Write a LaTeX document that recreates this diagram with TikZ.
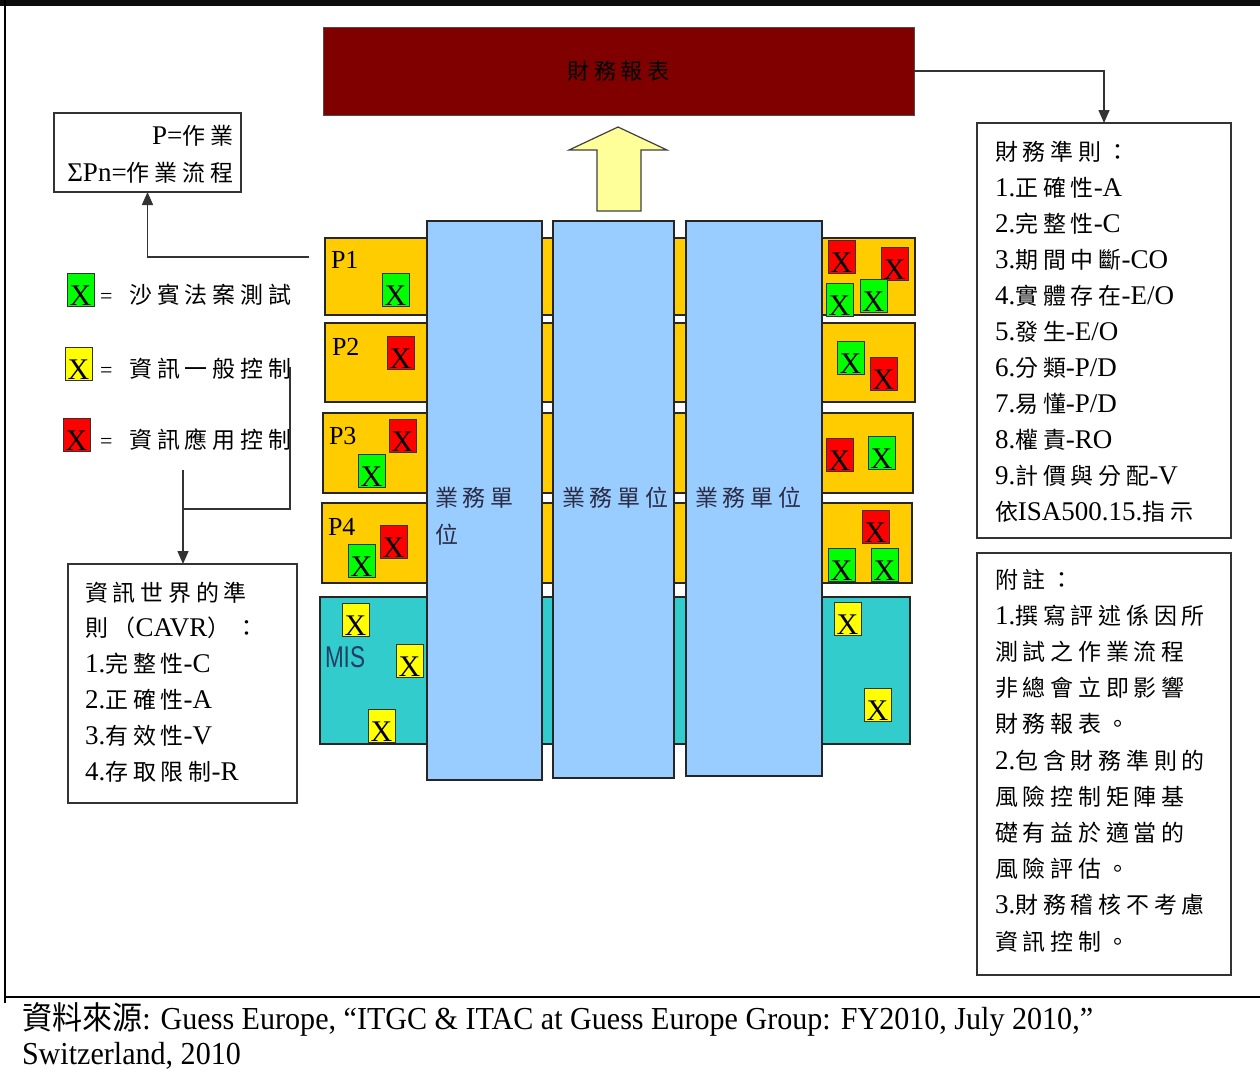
\documentclass[tikz,border=0pt]{standalone}
\usepackage{graphicx}
\usepackage{fontspec}
\setmainfont{Liberation Serif}
\newfontfamily\cjk{Noto Sans CJK TC}[Scale=0.85,LetterSpace=21]
\newfontfamily\cjkn{Noto Sans CJK TC}
\newfontfamily\sansn{Liberation Sans}
\usetikzlibrary{arrows.meta}
\newcommand\zh[1]{{\cjk #1}}
\definecolor{finred}{HTML}{800000}
\definecolor{procor}{HTML}{FFCC00}
\definecolor{misteal}{HTML}{33CCCC}
\definecolor{colblue}{HTML}{99CCFF}
\definecolor{xgreen}{HTML}{00FF00}
\definecolor{xred}{HTML}{FF0000}
\definecolor{xyellow}{HTML}{FFFF00}
\definecolor{arrowyel}{HTML}{FFFF99}
\definecolor{misblue}{HTML}{1F3F66}
\definecolor{coltext}{HTML}{2B2B44}
\tikzset{
  plain/.style={inner sep=0pt, outer sep=0pt},
  txt/.style={plain, anchor=base west, font=\fontsize{27}{36}\selectfont, text=black},
  rowbox/.style={plain, draw=black!85, line width=1.3pt, anchor=north west},
  colbox/.style={plain, draw=black!85, line width=1.3pt, fill=colblue, anchor=north west},
  infobox/.style={plain, draw=black!80, line width=1.5pt, anchor=north west, fill=white},
  xmark/.style={plain, draw=black!80, line width=1pt, anchor=north west, minimum width=27pt, text height=32pt, text depth=1pt, font=\fontsize{30}{30}\selectfont},
  conn/.style={draw=black!80, line width=1.5pt},
  tip/.style={-{Triangle[width=11pt,length=13pt]}},
}
\newcommand\xmk[4]{\node[xmark, fill=#2] (#1) at (#3,#4) {X};}
\begin{document}
\begin{tikzpicture}[x=1pt,y=-1pt]
\useasboundingbox (0,0) rectangle (1260,1071);
\fill[white] (0,0) rectangle (1260,1071);
% frame
\fill[black!95] (0,0) rectangle (1260,6);
\draw[line width=2pt] (5,0) -- (5,1003);
\draw[line width=2pt] (5,997) -- (1260,997);

% financial statements
\node[plain, draw=black!70, line width=1pt, fill=finred, anchor=north west, minimum width=591pt, minimum height=88pt, font=\fontsize{26}{26}\selectfont] (fin) at (323,27) {\zh{財務報表}};

% yellow block arrow
\draw[fill=arrowyel, draw=black!75, line width=1.2pt] (618,127) -- (667,150) -- (641,150) -- (641,211) -- (597,211) -- (597,150) -- (569,150) -- cycle;

% process rows
\node[rowbox, fill=procor, minimum width=590pt, minimum height=77pt] (P1) at (325,238) {};
\node[rowbox, fill=procor, minimum width=590pt, minimum height=79pt] (P2) at (325,323) {};
\node[rowbox, fill=procor, minimum width=590pt, minimum height=80pt] (P3) at (323,413) {};
\node[rowbox, fill=procor, minimum width=590pt, minimum height=80pt] (P4) at (322,503) {};
\node[rowbox, fill=misteal, minimum width=590pt, minimum height=147pt] (MIS) at (320,597) {};

\node[txt, font=\fontsize{26}{26}\selectfont] (P1t) at (331,268) {P1};
\node[txt, font=\fontsize{26}{26}\selectfont] (P2t) at (332,355) {P2};
\node[txt, font=\fontsize{26}{26}\selectfont] (P3t) at (329,444) {P3};
\node[txt, font=\fontsize{26}{26}\selectfont] (P4t) at (328,535) {P4};
\node[plain, anchor=base west, text=misblue, font=\fontsize{30}{30}\selectfont\sansn] (MISt) at (325,667) {\scalebox{0.75}[1]{MIS}};

% left X marks
\xmk{l1g}{xgreen}{382}{273}
\xmk{l2r}{xred}{387}{336}
\xmk{l3r}{xred}{389}{419}
\xmk{l3g}{xgreen}{358}{454}
\xmk{l4r}{xred}{380}{525}
\xmk{l4g}{xgreen}{348}{544}
\xmk{lm1}{xyellow}{342}{603}
\xmk{lm2}{xyellow}{396}{644}
\xmk{lm3}{xyellow}{368}{709}

% business unit columns
\node[colbox, minimum width=115pt, minimum height=559pt] (col1) at (427,221) {};
\node[colbox, minimum width=121pt, minimum height=557pt] (col2) at (553,221) {};
\node[colbox, minimum width=136pt, minimum height=555pt] (col3) at (686,221) {};
\node[txt, text=coltext] (c1a) at (435,506) {\zh{業務單}};
\node[txt, text=coltext] (c1b) at (435,543) {\zh{位}};
\node[txt, text=coltext] (c2a) at (562,506) {\zh{業務單位}};
\node[txt, text=coltext] (c3a) at (695,506) {\zh{業務單位}};

% right X marks
\xmk{r1r1}{xred}{828}{240}
\xmk{r1r2}{xred}{881}{247}
\xmk{r1g2}{xgreen}{860}{279}
\xmk{r1g1}{xgreen}{826}{283}
\xmk{r2g}{xgreen}{837}{341}
\xmk{r2r}{xred}{870}{357}
\xmk{r3r}{xred}{826}{438}
\xmk{r3g}{xgreen}{868}{436}
\xmk{r4r}{xred}{862}{510}
\xmk{r4g1}{xgreen}{828}{548}
\xmk{r4g2}{xgreen}{871}{548}
\xmk{rm1}{xyellow}{834}{602}
\xmk{rm2}{xyellow}{864}{688}

% P definition box
\node[infobox, minimum width=187pt, minimum height=79pt] (pbox) at (54,113) {};
\node[txt, anchor=base east] (pb1) at (233,144) {P=\zh{作業}};
\node[txt, anchor=base east] (pb2) at (233,181) {ΣPn=\zh{作業流程}};

% legend
\xmk{lgg}{xgreen}{67}{273}
\xmk{lgy}{xyellow}{65}{347}
\xmk{lgr}{xred}{63}{418}
\node[txt] (lgt1) at (100,303) {{\fontsize{22}{22}\selectfont=}\hspace{17pt}\zh{沙賓法案測試}};
\node[txt] (lgt2) at (100,377) {{\fontsize{22}{22}\selectfont=}\hspace{17pt}\zh{資訊一般控制}};
\node[txt] (lgt3) at (100,448) {{\fontsize{22}{22}\selectfont=}\hspace{17pt}\zh{資訊應用控制}};

% CAVR box
\node[infobox, minimum width=229pt, minimum height=239pt] (cavr) at (68,564) {};
\foreach \t [count=\i from 0] in {{\zh{資訊世界的準}}, {\zh{則（}CAVR\zh{）：}}, {1.\zh{完整性}-C}, {2.\zh{正確性}-A}, {3.\zh{有效性}-V}, {4.\zh{存取限制}-R}}
  \node[txt] (cv\i) at (85,{601+35.8*\i}) {\t};

% financial criteria box
\node[infobox, minimum width=254pt, minimum height=415pt] (crit) at (977,123) {};
\foreach \t [count=\i from 0] in {{\zh{財務準則：}}, {1.\zh{正確性}-A}, {2.\zh{完整性}-C}, {3.\zh{期間中斷}-CO}, {4.\zh{實體存在}-E/O}, {5.\zh{發生}-E/O}, {6.\zh{分類}-P/D}, {7.\zh{易懂}-P/D}, {8.\zh{權責}-RO}, {9.\zh{計價與分配}-V}, {\zh{依}ISA500.15.\zh{指示}}}
  \node[txt] (fr\i) at (995,{160+36*\i}) {\t};

% notes box
\node[infobox, minimum width=254pt, minimum height=422pt] (note) at (977,553) {};
\foreach \t [count=\i from 0] in {{\zh{附註：}}, {1.\zh{撰寫評述係因所}}, {\zh{測試之作業流程}}, {\zh{非總會立即影響}}, {\zh{財務報表。}}, {2.\zh{包含財務準則的}}, {\zh{風險控制矩陣基}}, {\zh{礎有益於適當的}}, {\zh{風險評估。}}, {3.\zh{財務稽核不考慮}}, {\zh{資訊控制。}}}
  \node[txt] (nt\i) at (995,{588+36.2*\i}) {\t};

% connectors
\coordinate (c1) at (309,257);
\draw[conn, tip] (c1) -| (pbox.south);
\draw[conn, tip] (fin.east) -| (crit.north);
\coordinate (c2) at (290,367);
\coordinate (c3) at (183,509);
\draw[conn] (c2) |- (c3);
\coordinate (c4) at (183,470);
\draw[conn, tip] (c4) -- (c4 |- cavr.north);

% source
\node[plain, anchor=base west, font=\fontsize{32}{32}\selectfont] (src1) at (22,1029) {\scalebox{0.94}[1]{{\cjkn 資料來源}: Guess Europe, “ITGC \& ITAC at Guess Europe Group: FY2010, July 2010,”}};
\node[plain, anchor=base west, font=\fontsize{32}{32}\selectfont] (src2) at (22,1064) {\scalebox{0.94}[1]{Switzerland, 2010}};
\end{tikzpicture}
\end{document}
